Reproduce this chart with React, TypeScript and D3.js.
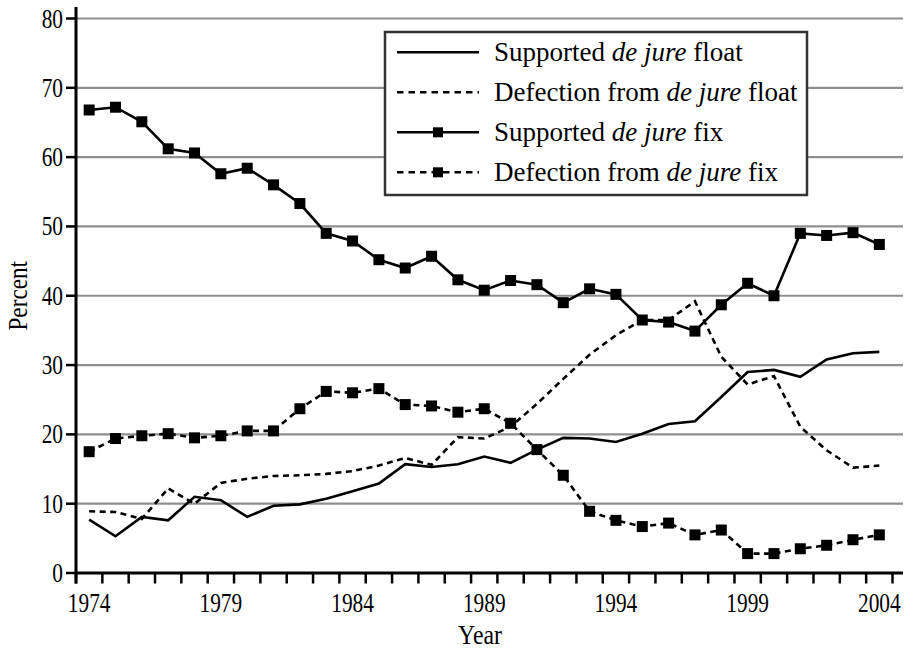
import React from 'react'
import * as d3 from 'd3'

const width = 907
const height = 651
const margin = { top: 18.5, right: 4, bottom: 78, left: 76 }

const years = [
  1974, 1975, 1976, 1977, 1978, 1979, 1980, 1981, 1982, 1983, 1984,
  1985, 1986, 1987, 1988, 1989, 1990, 1991, 1992, 1993, 1994, 1995,
  1996, 1997, 1998, 1999, 2000, 2001, 2002, 2003, 2004,
]
const yearLabels = [1974, 1979, 1984, 1989, 1994, 1999, 2004]
const percentTicks = [0, 10, 20, 30, 40, 50, 60, 70, 80]

const supportedFloat = [
  7.7, 5.3, 8.1, 7.6, 11.0, 10.5, 8.1, 9.7, 9.9, 10.7, 11.8, 12.9, 15.7, 15.3, 15.7, 16.8,
  15.9, 17.8, 19.5, 19.4, 18.9, 20.1, 21.5, 21.9, 25.4, 29.0, 29.3, 28.3, 30.8, 31.7, 31.9,
]
const defectionFloat = [
  8.9, 8.8, 7.8, 12.2, 10.0, 13.0, 13.6, 14.0, 14.1, 14.3, 14.7, 15.5, 16.6, 15.6, 19.6, 19.4,
  21.1, 24.4, 28.0, 31.5, 34.3, 36.5, 36.5, 39.2, 31.2, 27.2, 28.4, 21.1, 17.7, 15.2, 15.5,
]
const supportedFix = [
  66.8, 67.2, 65.1, 61.2, 60.6, 57.6, 58.4, 56.0, 53.3, 49.0, 47.9, 45.2, 44.0, 45.7, 42.3, 40.8,
  42.2, 41.6, 39.0, 41.0, 40.2, 36.5, 36.2, 34.9, 38.7, 41.8, 40.0, 49.0, 48.7, 49.1, 47.4,
]
const defectionFix = [
  17.5, 19.4, 19.8, 20.1, 19.5, 19.8, 20.5, 20.5, 23.7, 26.2, 26.0, 26.6, 24.3, 24.1, 23.2, 23.7,
  21.6, 17.8, 14.1, 8.9, 7.6, 6.7, 7.2, 5.5, 6.2, 2.8, 2.8, 3.5, 4.0, 4.8, 5.5,
]

const seriesNames = [
  ['Supported ', 'de jure', ' float'],
  ['Defection from ', 'de jure', ' float'],
  ['Supported ', 'de jure', ' fix'],
  ['Defection from ', 'de jure', ' fix'],
]

const font = '"Liberation Serif", "Times New Roman", "DejaVu Serif", serif'
const dash = '6,4.5'
const fs = 27
// the original face is a narrow Times, so labels get squeezed sideways
const squeeze = 0.79

const x = d3.scaleBand<number>().domain(years).range([margin.left, 892.5])
const y = d3.scaleLinear().domain([0, 80]).range([height - margin.bottom, margin.top])
const cx = (yr: number) => (x(yr) as number) + x.bandwidth() / 2

const line = d3.line<number>()
  .x((d, i) => cx(years[i]))
  .y(d => y(d))

const series = [
  { values: supportedFloat, dashed: false, markers: false },
  { values: defectionFloat, dashed: true, markers: false },
  { values: supportedFix, dashed: false, markers: true },
  { values: defectionFix, dashed: true, markers: true },
]

const App = () => {
  const y0 = y(0)
  const right = width - margin.right
  const legend = { x: 385, y: 32, w: 422, h: 163 }
  return (
    <svg width={width} height={height} style={{ position: 'absolute', left: 0, top: 0, background: '#fff' }}
      fontFamily={font}>
      {/* gridlines */}
      {percentTicks.filter(t => t > 0).map(t => (
        <line key={t} x1={margin.left} x2={right} y1={y(t)} y2={y(t)} stroke='#8f8f8f' strokeWidth={2.2} />
      ))}

      {/* legend box, sits over the grid */}
      <rect x={legend.x} y={legend.y} width={legend.w} height={legend.h} fill='#fff' stroke='#333' strokeWidth={2.5} />
      {seriesNames.map((parts, i) => {
        const ly = 52.3 + i * 40
        const s = series[i]
        return (
          <g key={i}>
            <line x1={397} x2={479} y1={ly} y2={ly} stroke='#000' strokeWidth={2.5}
              strokeDasharray={s.dashed ? '6.5,5' : undefined} />
            {s.markers && <rect x={433} y={ly - 5} width={10} height={10} fill='#000' />}
            <text x={494} y={ly + 9} fontSize={fs} fill='#000'>
              {parts[0]}<tspan fontStyle='italic'>{parts[1]}</tspan>{parts[2]}
            </text>
          </g>
        )
      })}

      {/* data lines */}
      {series.map((s, i) => (
        <g key={i}>
          <path d={line(s.values) as string} fill='none' stroke='#000' strokeWidth={2.6}
            strokeDasharray={s.dashed ? dash : undefined} strokeLinejoin='miter' />
          {s.markers && s.values.map((v, j) => (
            <rect key={j} x={cx(years[j]) - 5.5} y={y(v) - 5.5} width={11} height={11} fill='#000' />
          ))}
        </g>
      ))}

      {/* axes */}
      <line x1={margin.left} x2={margin.left} y1={7} y2={y0 + 10.5} stroke='#000' strokeWidth={3} />
      <line x1={margin.left - 1.5} x2={right} y1={y0} y2={y0} stroke='#000' strokeWidth={3} />
      {percentTicks.map(t => (
        <g key={t}>
          <line x1={margin.left - 10} x2={margin.left} y1={y(t)} y2={y(t)} stroke='#000' strokeWidth={2.5} />
          <text transform={`translate(${margin.left - 13}, ${y(t) + 9}) scale(${squeeze}, 1)`}
            textAnchor='end' fontSize={fs} fill='#000'>{t}</text>
        </g>
      ))}
      {years.map(yr => (
        <line key={yr} x1={x(yr) as number} x2={x(yr) as number} y1={y0} y2={y0 + 10.5} stroke='#000' strokeWidth={2.5} />
      ))}
      <line x1={892.5} x2={892.5} y1={y0} y2={y0 + 10.5} stroke='#000' strokeWidth={2.5} />
      {yearLabels.map(yr => (
        <text key={yr} transform={`translate(${cx(yr)}, 611.5) scale(${squeeze}, 1)`}
          textAnchor='middle' fontSize={fs} fill='#000'>{yr}</text>
      ))}

      <text transform={`translate(480, 644) scale(0.88, 1)`} textAnchor='middle' fontSize={fs} fill='#000'>Year</text>
      <text transform={`translate(27, ${(y(0) + y(80)) / 2}) rotate(-90) scale(0.86, 1)`}
        textAnchor='middle' fontSize={fs} fill='#000'>Percent</text>
    </svg>
  )
}

export default App
